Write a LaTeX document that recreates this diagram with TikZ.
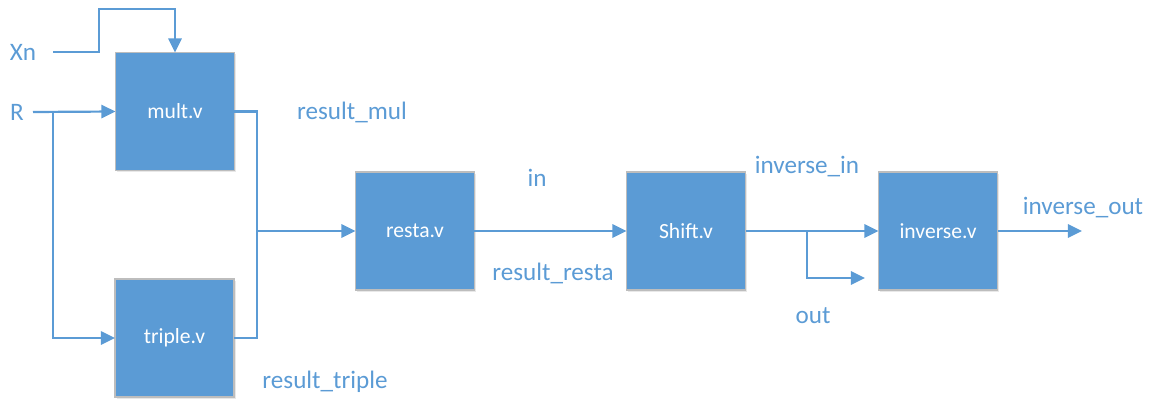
\documentclass[tikz,border=0pt]{standalone}
\usepackage{fontspec}
\setmainfont{Carlito}
\usetikzlibrary{arrows.meta,shadows}
\definecolor{blu}{HTML}{5B9BD5}
\definecolor{bord}{HTML}{BDBDBD}
\tikzset{
  blk/.style={rectangle, fill=blu, draw=bord, line width=0.6pt, minimum width=2.38cm, minimum height=2.36cm, inner sep=0pt, outer sep=0pt, text=white, font=\fontsize{12.3}{14}\selectfont, drop shadow={opacity=0.18, shadow xshift=1pt, shadow yshift=-1pt}},
  lbl/.style={text=blu, font=\fontsize{14.3}{16}\selectfont, inner sep=0pt},
  wire/.style={draw=blu, line width=1.25pt},
  arr/.style={wire, -{Triangle[length=8pt,width=7.5pt]}}
}
\begin{document}
\begin{tikzpicture}[x=0.02cm,y=-0.02cm]
\useasboundingbox (0,0) rectangle (1151,402);
\node[blk] (mult) at (175,111.5) {mult.v};
\node[blk] (triple) at (174.5,338) {triple.v};
\node[blk] (resta) at (415,231) {resta.v};
\node[blk] (shift) at (686,231) {Shift.v};
\node[blk] (inv) at (938,231) {inverse.v};

\node[lbl] (lxn) at (23,52) {Xn};
\node[lbl] (lr) at (17,112) {R};
\node[lbl] (lmul) at (352,112) {result\_mul};
\node[lbl] (ltriple) at (325,382) {result\_triple};
\node[lbl] (lin) at (537,178) {in};
\node[lbl] (lresta) at (553,273) {result\_resta};
\node[lbl] (linvin) at (807,167) {inverse\_in};
\node[lbl] (lout) at (813,316) {out};
\node[lbl] (linvout) at (1083,208) {inverse\_out};

\coordinate (xnstart) at (53,52);
\coordinate (rstart) at (33,112);
\coordinate (rsplit) at (53,112);
\coordinate (join) at (257,231);
\coordinate (osplit) at (807,231);
\coordinate (outend) at (865,278);
\coordinate (invend) at (1082,231);

\draw[arr] (xnstart) -| (99,9) -| (mult.north);
\draw[arr] (rstart) -- (mult.west);
\draw[arr] (rsplit) |- (triple.west);
\draw[wire] (mult.east) -| (join);
\draw[wire] (triple.east) -| (join);
\draw[arr] (join) -- (resta.west);
\draw[arr] (resta.east) -- (shift.west);
\draw[arr] (shift.east) -- (inv.west);
\draw[arr] (osplit) |- (outend);
\draw[arr] (inv.east) -- (invend);
\end{tikzpicture}
\end{document}
